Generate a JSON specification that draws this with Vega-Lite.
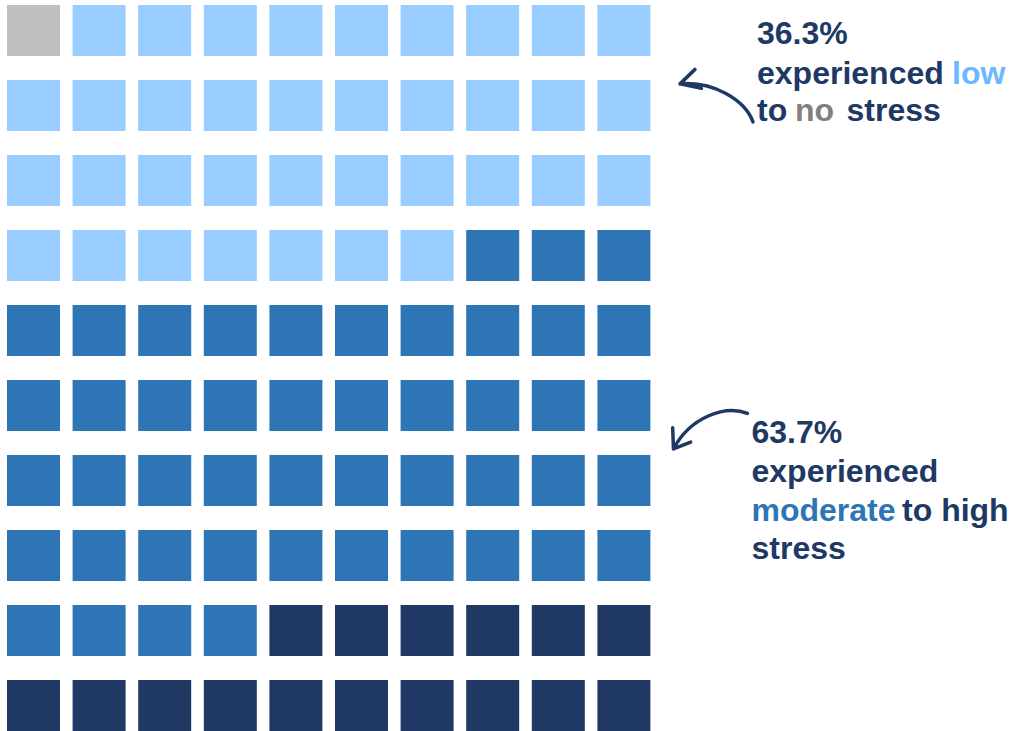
{
  "$schema": "https://vega.github.io/schema/vega-lite/v6.json",
  "width": 1010,
  "height": 731,
  "padding": 0,
  "autosize": {"type": "fit", "contains": "padding"},
  "background": "white",
  "config": {
    "view": {"stroke": null},
    "text": {"font": "Liberation Sans", "fontWeight": "bold", "fontSize": 32}
  },
  "layer": [
    {
      "data": {"values": [
        {"r":1,"c":1,"k":"none"},{"r":1,"c":2,"k":"low"},{"r":1,"c":3,"k":"low"},{"r":1,"c":4,"k":"low"},{"r":1,"c":5,"k":"low"},{"r":1,"c":6,"k":"low"},{"r":1,"c":7,"k":"low"},{"r":1,"c":8,"k":"low"},{"r":1,"c":9,"k":"low"},{"r":1,"c":10,"k":"low"},
        {"r":2,"c":1,"k":"low"},{"r":2,"c":2,"k":"low"},{"r":2,"c":3,"k":"low"},{"r":2,"c":4,"k":"low"},{"r":2,"c":5,"k":"low"},{"r":2,"c":6,"k":"low"},{"r":2,"c":7,"k":"low"},{"r":2,"c":8,"k":"low"},{"r":2,"c":9,"k":"low"},{"r":2,"c":10,"k":"low"},
        {"r":3,"c":1,"k":"low"},{"r":3,"c":2,"k":"low"},{"r":3,"c":3,"k":"low"},{"r":3,"c":4,"k":"low"},{"r":3,"c":5,"k":"low"},{"r":3,"c":6,"k":"low"},{"r":3,"c":7,"k":"low"},{"r":3,"c":8,"k":"low"},{"r":3,"c":9,"k":"low"},{"r":3,"c":10,"k":"low"},
        {"r":4,"c":1,"k":"low"},{"r":4,"c":2,"k":"low"},{"r":4,"c":3,"k":"low"},{"r":4,"c":4,"k":"low"},{"r":4,"c":5,"k":"low"},{"r":4,"c":6,"k":"low"},{"r":4,"c":7,"k":"low"},{"r":4,"c":8,"k":"moderate"},{"r":4,"c":9,"k":"moderate"},{"r":4,"c":10,"k":"moderate"},
        {"r":5,"c":1,"k":"moderate"},{"r":5,"c":2,"k":"moderate"},{"r":5,"c":3,"k":"moderate"},{"r":5,"c":4,"k":"moderate"},{"r":5,"c":5,"k":"moderate"},{"r":5,"c":6,"k":"moderate"},{"r":5,"c":7,"k":"moderate"},{"r":5,"c":8,"k":"moderate"},{"r":5,"c":9,"k":"moderate"},{"r":5,"c":10,"k":"moderate"},
        {"r":6,"c":1,"k":"moderate"},{"r":6,"c":2,"k":"moderate"},{"r":6,"c":3,"k":"moderate"},{"r":6,"c":4,"k":"moderate"},{"r":6,"c":5,"k":"moderate"},{"r":6,"c":6,"k":"moderate"},{"r":6,"c":7,"k":"moderate"},{"r":6,"c":8,"k":"moderate"},{"r":6,"c":9,"k":"moderate"},{"r":6,"c":10,"k":"moderate"},
        {"r":7,"c":1,"k":"moderate"},{"r":7,"c":2,"k":"moderate"},{"r":7,"c":3,"k":"moderate"},{"r":7,"c":4,"k":"moderate"},{"r":7,"c":5,"k":"moderate"},{"r":7,"c":6,"k":"moderate"},{"r":7,"c":7,"k":"moderate"},{"r":7,"c":8,"k":"moderate"},{"r":7,"c":9,"k":"moderate"},{"r":7,"c":10,"k":"moderate"},
        {"r":8,"c":1,"k":"moderate"},{"r":8,"c":2,"k":"moderate"},{"r":8,"c":3,"k":"moderate"},{"r":8,"c":4,"k":"moderate"},{"r":8,"c":5,"k":"moderate"},{"r":8,"c":6,"k":"moderate"},{"r":8,"c":7,"k":"moderate"},{"r":8,"c":8,"k":"moderate"},{"r":8,"c":9,"k":"moderate"},{"r":8,"c":10,"k":"moderate"},
        {"r":9,"c":1,"k":"moderate"},{"r":9,"c":2,"k":"moderate"},{"r":9,"c":3,"k":"moderate"},{"r":9,"c":4,"k":"moderate"},{"r":9,"c":5,"k":"high"},{"r":9,"c":6,"k":"high"},{"r":9,"c":7,"k":"high"},{"r":9,"c":8,"k":"high"},{"r":9,"c":9,"k":"high"},{"r":9,"c":10,"k":"high"},
        {"r":10,"c":1,"k":"high"},{"r":10,"c":2,"k":"high"},{"r":10,"c":3,"k":"high"},{"r":10,"c":4,"k":"high"},{"r":10,"c":5,"k":"high"},{"r":10,"c":6,"k":"high"},{"r":10,"c":7,"k":"high"},{"r":10,"c":8,"k":"high"},{"r":10,"c":9,"k":"high"},{"r":10,"c":10,"k":"high"}
      ]},
      "mark": {"type": "rect", "width": 53, "height": 51},
      "encoding": {
        "x": {"field": "c", "type": "quantitative", "scale": {"domain": [0.4893, 15.8857], "nice": false, "zero": false}, "axis": null},
        "y": {"field": "r", "type": "quantitative", "scale": {"domain": [0.5939, 10.3276], "nice": false, "zero": false, "reverse": true}, "axis": null},
        "color": {"field": "k", "type": "nominal", "scale": {"domain": ["none", "low", "moderate", "high"], "range": ["#BFBFBF", "#99CCFF", "#2E75B6", "#203864"]}, "legend": null}
      }
    },
    {
      "data": {"values": [{}]},
      "mark": {"type": "text", "align": "left", "baseline": "alphabetic", "color": "#203864"},
      "encoding": {"x": {"datum": 12.029, "type": "quantitative"}, "y": {"datum": 1.186, "type": "quantitative"}, "text": {"value": "36.3%"}}
    },
    {
      "data": {"values": [{}]},
      "mark": {"type": "text", "align": "left", "baseline": "alphabetic", "color": "#203864"},
      "encoding": {"x": {"datum": 12.029, "type": "quantitative"}, "y": {"datum": 1.712, "type": "quantitative"}, "text": {"value": "experienced"}}
    },
    {
      "data": {"values": [{}]},
      "mark": {"type": "text", "align": "left", "baseline": "alphabetic", "color": "#6CB8FF"},
      "encoding": {"x": {"datum": 15.002, "type": "quantitative"}, "y": {"datum": 1.712, "type": "quantitative"}, "text": {"value": "low"}}
    },
    {
      "data": {"values": [{}]},
      "mark": {"type": "text", "align": "left", "baseline": "alphabetic", "color": "#203864"},
      "encoding": {"x": {"datum": 12.029, "type": "quantitative"}, "y": {"datum": 2.205, "type": "quantitative"}, "text": {"value": "to"}}
    },
    {
      "data": {"values": [{}]},
      "mark": {"type": "text", "align": "left", "baseline": "alphabetic", "color": "#808080"},
      "encoding": {"x": {"datum": 12.608, "type": "quantitative"}, "y": {"datum": 2.205, "type": "quantitative"}, "text": {"value": "no"}}
    },
    {
      "data": {"values": [{}]},
      "mark": {"type": "text", "align": "left", "baseline": "alphabetic", "color": "#203864"},
      "encoding": {"x": {"datum": 13.393, "type": "quantitative"}, "y": {"datum": 2.205, "type": "quantitative"}, "text": {"value": "stress"}}
    },
    {
      "data": {"values": [{}]},
      "mark": {"type": "text", "align": "left", "baseline": "alphabetic", "color": "#203864"},
      "encoding": {"x": {"datum": 11.945, "type": "quantitative"}, "y": {"datum": 6.499, "type": "quantitative"}, "text": {"value": "63.7%"}}
    },
    {
      "data": {"values": [{}]},
      "mark": {"type": "text", "align": "left", "baseline": "alphabetic", "color": "#203864"},
      "encoding": {"x": {"datum": 11.945, "type": "quantitative"}, "y": {"datum": 7.019, "type": "quantitative"}, "text": {"value": "experienced"}}
    },
    {
      "data": {"values": [{}]},
      "mark": {"type": "text", "align": "left", "baseline": "alphabetic", "color": "#2E75B6"},
      "encoding": {"x": {"datum": 11.945, "type": "quantitative"}, "y": {"datum": 7.538, "type": "quantitative"}, "text": {"value": "moderate"}}
    },
    {
      "data": {"values": [{}]},
      "mark": {"type": "text", "align": "left", "baseline": "alphabetic", "color": "#203864"},
      "encoding": {"x": {"datum": 14.24, "type": "quantitative"}, "y": {"datum": 7.538, "type": "quantitative"}, "text": {"value": "to high"}}
    },
    {
      "data": {"values": [{}]},
      "mark": {"type": "text", "align": "left", "baseline": "alphabetic", "color": "#203864"},
      "encoding": {"x": {"datum": 11.945, "type": "quantitative"}, "y": {"datum": 8.05, "type": "quantitative"}, "text": {"value": "stress"}}
    },
    {
      "data": {"values": [{}]},
      "mark": {"type": "point", "shape": "M0.72,0.48 C0.56,0.04 -0.08,-0.34 -0.74,-0.28 M-0.44,-0.57 L-0.74,-0.28 L-0.31,-0.19", "size": 10000, "filled": false, "stroke": "#203864", "strokeWidth": 3.5, "opacity": 1, "strokeCap": "round", "strokeJoin": "round"},
      "encoding": {"x": {"datum": 11.419, "type": "quantitative"}, "y": {"datum": 1.899, "type": "quantitative"}}
    },
    {
      "data": {"values": [{}]},
      "mark": {"type": "point", "shape": "M0.75,-0.32 C0.30,-0.50 -0.40,-0.24 -0.73,0.39 M-0.746,-0.034 L-0.73,0.39 L-0.386,0.254", "size": 10000, "filled": false, "stroke": "#203864", "strokeWidth": 3.5, "opacity": 1, "strokeCap": "round", "strokeJoin": "round"},
      "encoding": {"x": {"datum": 11.312, "type": "quantitative"}, "y": {"datum": 6.32, "type": "quantitative"}}
    }
  ]
}
